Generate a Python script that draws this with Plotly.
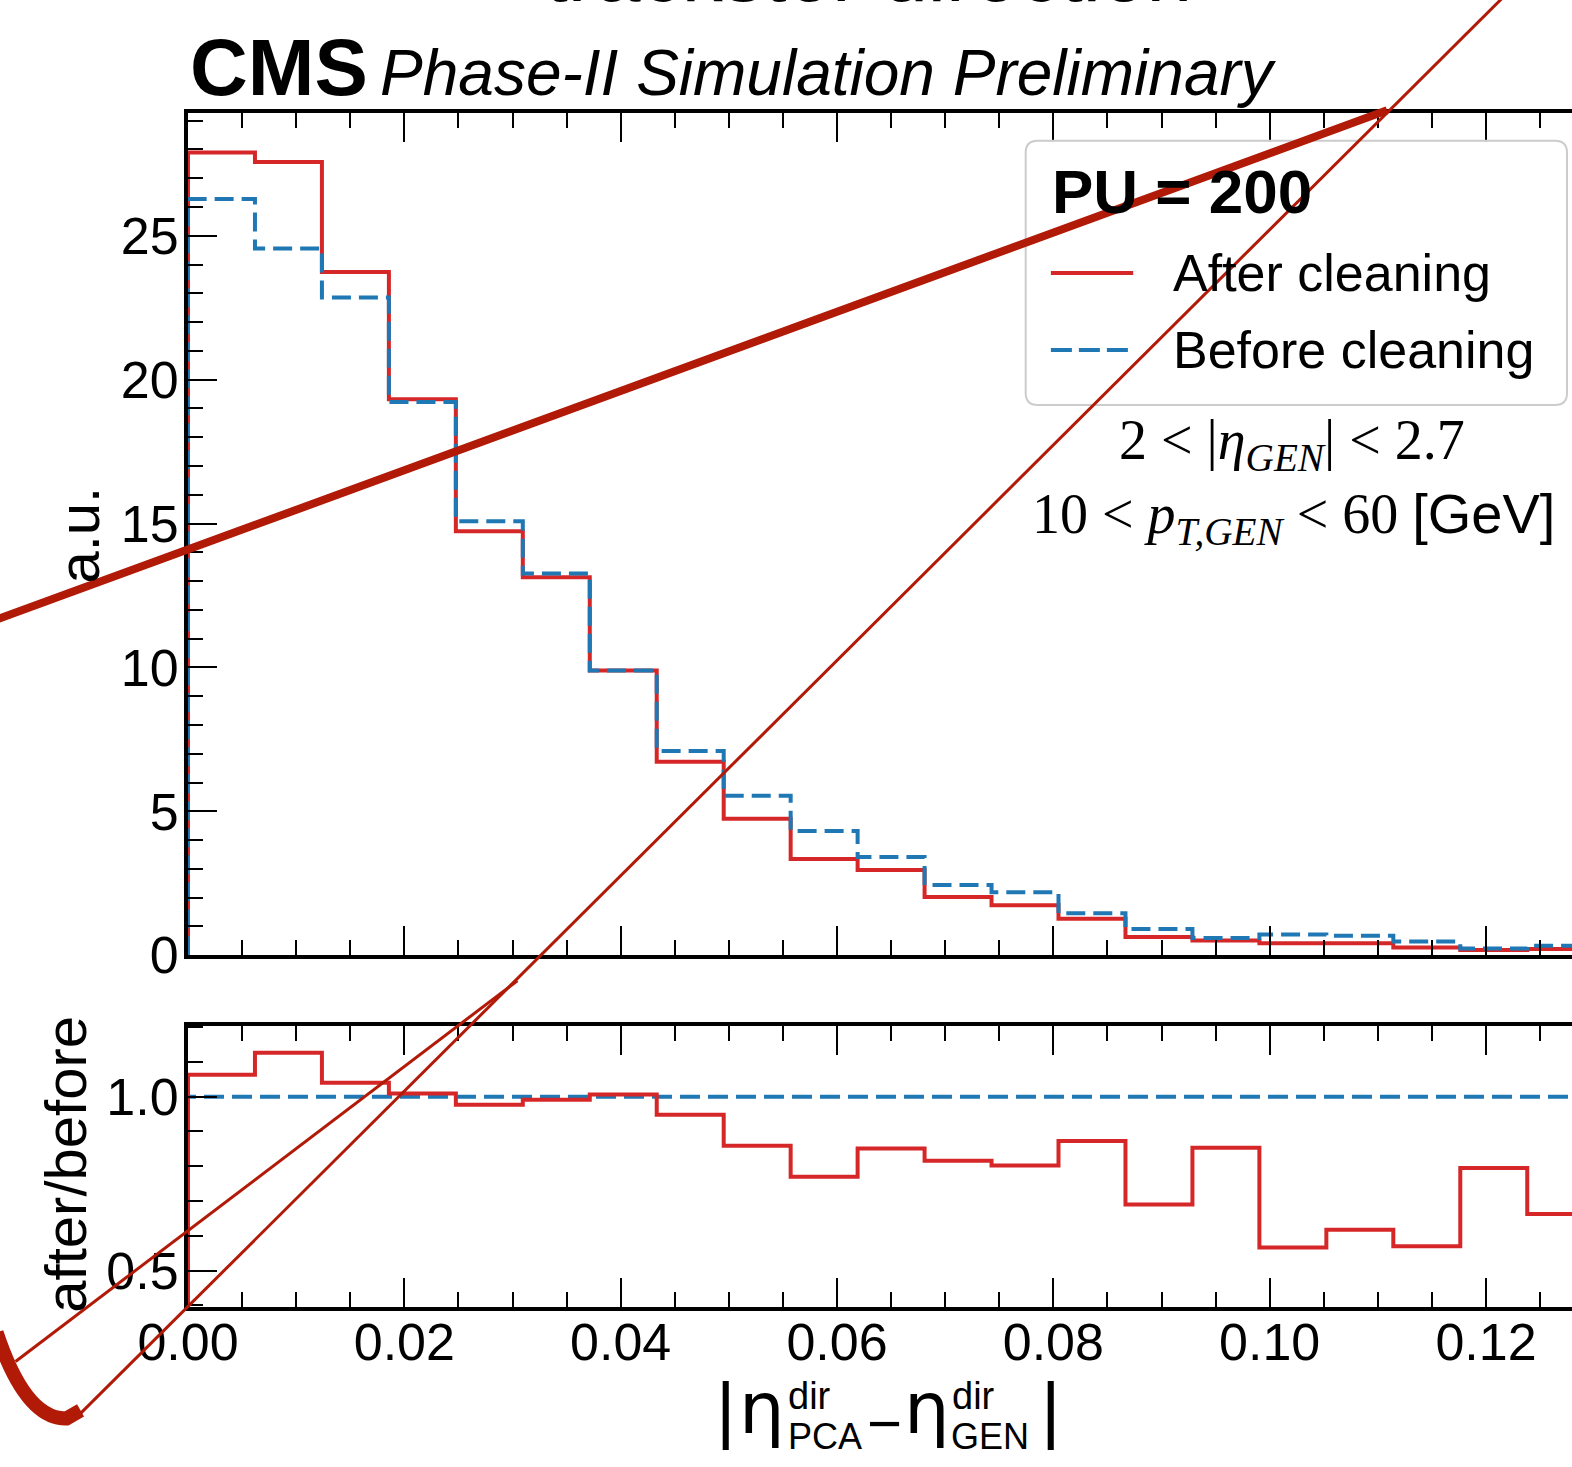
import numpy as np
import plotly.graph_objects as go

# ---------------- data ----------------
n_bins = 21
x_lo, x_hi = 0.0, 0.13
bin_edges = np.linspace(x_lo, x_hi, n_bins + 1)

after_cleaning = [27.89, 27.56, 23.74, 19.32, 14.73, 13.13, 9.89, 6.72, 4.74, 3.34, 2.96,
                  2.02, 1.74, 1.27, 0.63, 0.51, 0.42, 0.42, 0.27, 0.18, 0.22]
before_cleaning = [26.28, 24.56, 22.85, 19.22, 15.08, 13.26, 9.89, 7.10, 5.54, 4.32, 3.41,
                   2.44, 2.19, 1.46, 0.91, 0.60, 0.72, 0.68, 0.48, 0.23, 0.33]
ratio_after = [1.063, 1.126, 1.040, 1.009, 0.977, 0.991, 1.006, 0.948, 0.859, 0.770, 0.851,
               0.816, 0.802, 0.873, 0.690, 0.853, 0.567, 0.618, 0.570, 0.795, 0.663]
ratio_before = [1.0, 1.0, 1.0, 1.0, 1.0, 1.0, 1.0, 1.0, 1.0, 1.0, 1.0,
                1.0, 1.0, 1.0, 1.0, 1.0, 1.0, 1.0, 1.0, 1.0, 1.0]

series_names = ["After cleaning", "Before cleaning"]
legend_title = "PU = 200"
top_title = "trackster direction"
selection_lines = ["2 &lt; |<i>η</i><sub><i>GEN</i></sub>| &lt; 2.7",
                   "10 &lt; <i>p</i><sub><i>T,GEN</i></sub> &lt; 60 <span style='font-family:Liberation Sans'>[GeV]</span>"]

# ---------------- geometry / style ----------------
W, H = 1572, 1467
L_PX, R_PX, T_PX, B_PX = 187.5, 1572.0, 112.7, 1307.5
PW, PH = R_PX - L_PX, B_PX - T_PX
X_SCALE = (1486.0 - 187.5) / 0.12
x_view_max = PW / X_SCALE
main_bottom_px, ratio_top_px = 955.5, 1026.0
main_dom = [(B_PX - main_bottom_px) / PH, 1.0]
ratio_dom = [0.0, (B_PX - ratio_top_px) / PH]
main_range = [0, (main_bottom_px - T_PX) / 28.8]
ratio_range = [0.3957, 1.204]

RED = "#d62728"
BLUE = "#1f77b4"
INK = "#b21a08"
SANS = "Liberation Sans"
SERIF = "Liberation Serif"


def px(X):
    return (X - L_PX) / PW


def py(Y):
    return (B_PX - Y) / PH


def step_xy(vals):
    xs = [bin_edges[0]] + list(bin_edges)
    ys = [0.0] + list(vals) + [vals[-1]]
    return xs, ys


fig = go.Figure()
xa, ya = step_xy(after_cleaning)
xb, yb = step_xy(before_cleaning)
fig.add_trace(go.Scatter(x=xa, y=ya, mode="lines", name=series_names[0], showlegend=False,
                         line=dict(shape="hv", color=RED, width=4), xaxis="x", yaxis="y"))
fig.add_trace(go.Scatter(x=xb, y=yb, mode="lines", name=series_names[1], showlegend=False,
                         line=dict(shape="hv", color=BLUE, width=4, dash="19px,8px"), xaxis="x", yaxis="y"))
xr, yr = step_xy(ratio_after)
xrb, yrb = step_xy(ratio_before)
fig.add_trace(go.Scatter(x=xrb, y=yrb, mode="lines", name=series_names[1] + " ratio", showlegend=False,
                         line=dict(shape="hv", color=BLUE, width=4, dash="20px,8px"), xaxis="x2", yaxis="y2"))
fig.add_trace(go.Scatter(x=xr, y=yr, mode="lines", name=series_names[0] + " ratio", showlegend=False,
                         line=dict(shape="hv", color=RED, width=4), xaxis="x2", yaxis="y2"))

tickfont = dict(family=SANS, size=52, color="black")
common_x = dict(range=[0, x_view_max], tickmode="linear", tick0=0, dtick=0.02, tickformat=".2f",
                ticks="inside", ticklen=29, tickwidth=2, tickcolor="black",
                minor=dict(ticks="inside", ticklen=15, tickwidth=2, tickcolor="black", dtick=0.005, tick0=0, showgrid=False),
                showline=True, linewidth=4, linecolor="black", mirror="allticks",
                showgrid=False, zeroline=False, tickfont=tickfont)
common_y = dict(ticks="inside", ticklen=29, tickwidth=2, tickcolor="black",
                showline=True, linewidth=4, linecolor="black", mirror=False,
                showgrid=False, zeroline=False, tickfont=tickfont, ticklabelstandoff=-5)

fig.update_layout(
    width=W, height=H,
    margin=dict(l=L_PX, r=W - R_PX, t=T_PX, b=H - B_PX, autoexpand=False),
    paper_bgcolor="white", plot_bgcolor="white",
    font=dict(family=SANS, color="black"),
    showlegend=False,
    xaxis=dict(common_x, domain=[0, 1], anchor="y", showticklabels=False, matches="x2"),
    xaxis2=dict(common_x, domain=[0, 1], anchor="y2", showticklabels=True, ticklabelstandoff=-13),
    yaxis=dict(common_y, domain=main_dom, anchor="x", range=main_range, tickmode="linear", tick0=0, dtick=5,
               minor=dict(ticks="inside", ticklen=15, tickwidth=2, tickcolor="black", dtick=1, tick0=0, showgrid=False)),
    yaxis2=dict(common_y, domain=ratio_dom, anchor="x2", range=ratio_range, tickmode="linear", tick0=0, dtick=0.5,
                tickformat=".1f",
                minor=dict(ticks="inside", ticklen=15, tickwidth=2, tickcolor="black", dtick=0.1, tick0=0, showgrid=False)),
)

shapes = []
# legend frame (rounded)
x0, x1, y0, y1, r = 1025.5, 1567.0, 140.5, 405.0, 12
path = (f"M {px(x0 + r)},{py(y0)} L {px(x1 - r)},{py(y0)} Q {px(x1)},{py(y0)} {px(x1)},{py(y0 + r)} "
        f"L {px(x1)},{py(y1 - r)} Q {px(x1)},{py(y1)} {px(x1 - r)},{py(y1)} "
        f"L {px(x0 + r)},{py(y1)} Q {px(x0)},{py(y1)} {px(x0)},{py(y1 - r)} "
        f"L {px(x0)},{py(y0 + r)} Q {px(x0)},{py(y0)} {px(x0 + r)},{py(y0)} Z")
shapes.append(dict(type="path", xref="paper", yref="paper", path=path, layer="above",
                   fillcolor="rgba(255,255,255,0.8)", line=dict(color="#cccccc", width=2)))
# legend samples
shapes.append(dict(type="line", xref="paper", yref="paper", x0=px(1050.7), x1=px(1133), y0=py(272.7), y1=py(272.7),
                   line=dict(color=RED, width=4), layer="above"))
shapes.append(dict(type="line", xref="paper", yref="paper", x0=px(1050.7), x1=px(1133), y0=py(349.8), y1=py(349.8),
                   line=dict(color=BLUE, width=4, dash="21px,7px"), layer="above"))

# hand-drawn red overlay strokes
shapes.append(dict(type="line", xref="paper", yref="paper", x0=px(-5), y0=py(620), x1=px(1387), y1=py(110),
                   line=dict(color=INK, width=8), layer="above"))
shapes.append(dict(type="line", xref="paper", yref="paper", x0=px(1510), y0=py(-10), x1=px(78), y1=py(1416),
                   line=dict(color=INK, width=3), layer="above"))
shapes.append(dict(type="line", xref="paper", yref="paper", x0=px(15), y0=py(1362), x1=px(517), y1=py(981),
                   line=dict(color=INK, width=3), layer="above"))
curve = f"M {px(-4)},{py(1333)} Q {px(25)},{py(1420)} {px(66)},{py(1419)} L {px(80)},{py(1411)}"
shapes.append(dict(type="path", xref="paper", yref="paper", path=curve,
                   line=dict(color=INK, width=14), layer="above"))
fig.update_layout(shapes=shapes)

anns = []


def label(text, X, Ybase, size, family=SANS, xanchor="left", k=0.3465):
    anns.append(dict(text=text, x=px(X), y=py(Ybase - k * size), xref="paper", yref="paper",
                     xanchor=xanchor, yanchor="middle", showarrow=False,
                     font=dict(family=family, size=size, color="black"), borderpad=0))


def vlabel(text, Xc, Yc, size):
    anns.append(dict(text=text, x=px(Xc), y=py(Yc), xref="paper", yref="paper", textangle=-90,
                     xanchor="center", yanchor="middle", showarrow=False,
                     font=dict(family=SANS, size=size, color="black"), borderpad=0))


label(top_title, 868, 1, 82, xanchor="center")
label("<b>CMS</b>", 189, 95.2, 80)
label("<i>Phase-II Simulation Preliminary</i>", 379, 95.2, 64)
label("<b>" + legend_title + "</b>", 1051, 212.5, 62)
label(series_names[0], 1172, 291, 52)
label(series_names[1], 1172, 368, 52)
label(selection_lines[0], 1292, 463, 56, family=SERIF, xanchor="center", k=0.3375)
label(selection_lines[1], 1293, 536, 56, family=SERIF, xanchor="center", k=0.3375)
vlabel("a.u.", 77, 535, 58)
vlabel("after/before", 65.5, 1165, 58)

# x-axis title |eta^dir_PCA - eta^dir_GEN|
label("|", 715, 1436, 75)
label("η", 738, 1434, 72, family="DejaVu Sans")
label("dir", 787, 1410, 38)
label("PCA", 787, 1450, 36)
label("−", 884, 1445, 60, xanchor="center")
label("η", 903, 1434, 72, family="DejaVu Sans")
label("dir", 951, 1410, 38)
label("GEN", 950, 1450, 36)
label("|", 1040, 1436, 75)

fig.update_layout(annotations=anns)
fig.write_html("out.html")
